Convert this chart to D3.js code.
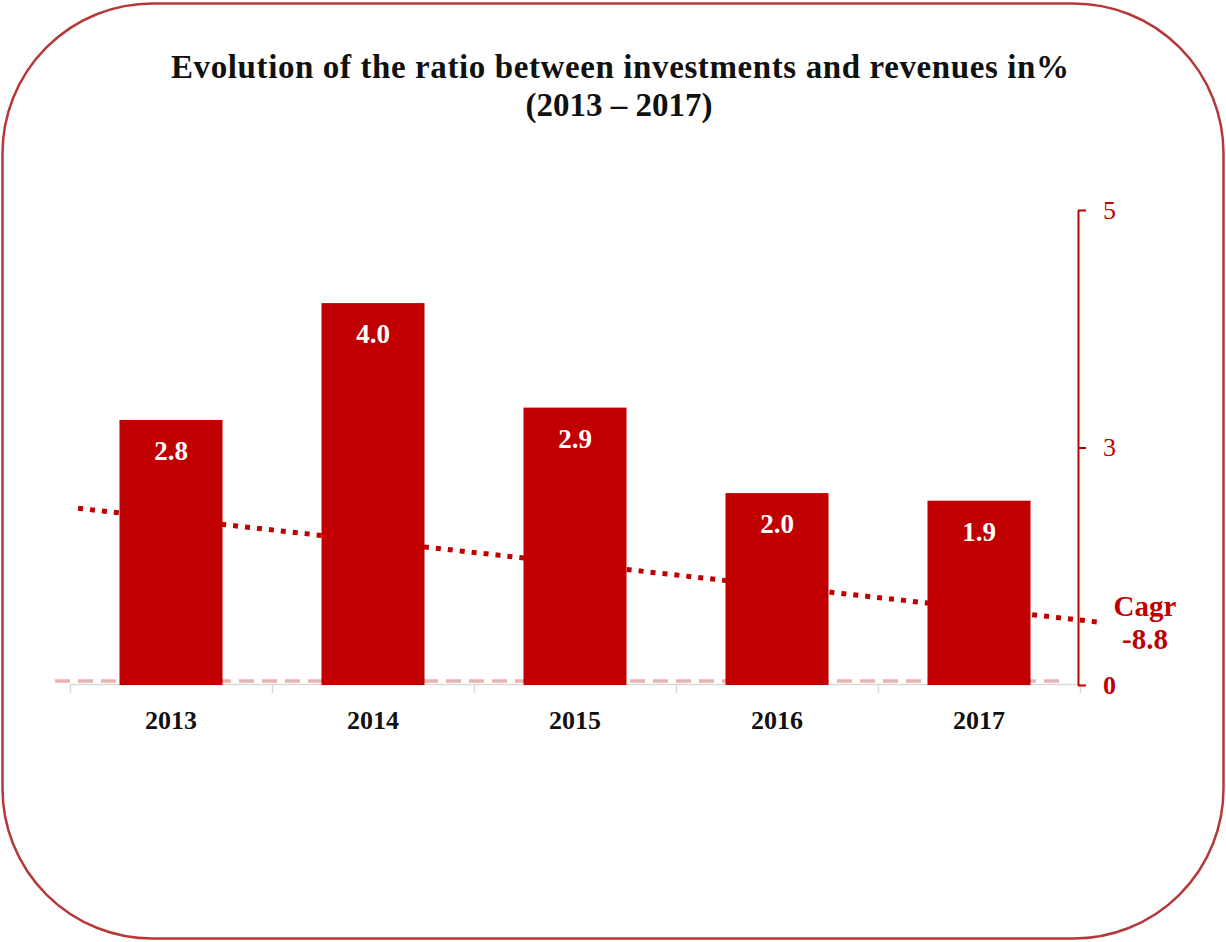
<!DOCTYPE html>
<html>
<head>
<meta charset="utf-8">
<script src="https://cdn.jsdelivr.net/npm/d3@7"></script>
<style>
  body { margin: 0; background: #fff; }
  text { font-family: "Liberation Serif", "DejaVu Serif", serif; }
</style>
</head>
<body>
<svg></svg>
<script>
let width = 1226;
let height = 942;

let years = ["2013", "2014", "2015", "2016", "2017"];
let ratios = [2.79, 4.02, 2.92, 2.02, 1.94];
let ratioLabels = ["2.8", "4.0", "2.9", "2.0", "1.9"];
let tickValues = [0, 2.5, 5];
let tickLabels = ["0", "3", "5"];
// trend line end values (data units), x-extent in category steps
let trendValues = [1.86, 0.66];
let trendSpan = [0.04, 5.1];
let cagrLabel = ["Cagr", "-8.8"];

let red = "#c00000";

let svg = d3.select("svg")
    .attr("width", width)
    .attr("height", height);

// rounded frame
svg.append("rect")
    .attr("x", 2.5)
    .attr("y", 3.5)
    .attr("width", width - 5)
    .attr("height", height - 7)
    .attr("rx", 150)
    .attr("ry", 150)
    .attr("fill", "#fff")
    .attr("stroke", "#b5383b")
    .attr("stroke-width", 2.5);

let xScale = d3.scaleBand()
    .domain(years)
    .range([70, 1080])
    .paddingInner(0.49)
    .paddingOuter(0.245);

let yScale = d3.scaleLinear()
    .domain([0, 5])
    .range([685, 210]);

let stepScale = d3.scaleLinear().domain([0, 5]).range([70, 1080]);

// x axis
let xAxis = d3.axisBottom(stepScale)
    .tickValues([0, 1, 2, 3, 4, 5])
    .tickSize(9)
    .tickSizeOuter(0)
    .tickFormat("");

let gx = svg.append("g")
    .attr("transform", "translate(0," + 684 + ")")
    .call(xAxis);
gx.selectAll("path, line").attr("stroke", "#d9d9d9").attr("stroke-width", 1.5);

svg.append("g")
    .selectAll("text")
    .data(years)
    .enter()
    .append("text")
    .attr("x", d => xScale(d) + xScale.bandwidth() / 2)
    .attr("y", 729)
    .attr("text-anchor", "middle")
    .style("font-size", "26px")
    .style("font-weight", "bold")
    .attr("fill", "#111")
    .text(d => d);

// dashed baseline
svg.append("line")
    .attr("x1", 55)
    .attr("x2", 1066)
    .attr("y1", yScale(0) - 4)
    .attr("y2", yScale(0) - 4)
    .attr("stroke", "#e6b3b3")
    .attr("stroke-width", 3.5)
    .attr("stroke-dasharray", "15 8");

// trend line
svg.append("line")
    .attr("x1", stepScale(trendSpan[0]))
    .attr("x2", stepScale(trendSpan[1]))
    .attr("y1", yScale(trendValues[0]))
    .attr("y2", yScale(trendValues[1]))
    .attr("stroke", red)
    .attr("stroke-width", 5)
    .attr("stroke-dasharray", "5 7");

// bars
svg.append("g")
    .selectAll("rect")
    .data(ratios)
    .enter()
    .append("rect")
    .attr("x", (d, i) => xScale(years[i]))
    .attr("y", d => yScale(d))
    .attr("width", xScale.bandwidth())
    .attr("height", d => yScale(0) - yScale(d))
    .attr("fill", red);

// bar value labels
svg.append("g")
    .selectAll("text")
    .data(ratios)
    .enter()
    .append("text")
    .attr("x", (d, i) => xScale(years[i]) + xScale.bandwidth() / 2)
    .attr("y", d => yScale(d) + 40)
    .attr("text-anchor", "middle")
    .style("font-size", "27px")
    .style("font-weight", "bold")
    .attr("fill", "#fff")
    .text((d, i) => ratioLabels[i]);

// right axis
let yAxis = d3.axisRight(yScale)
    .tickValues(tickValues)
    .tickSize(8)
    .tickSizeOuter(0)
    .tickFormat((d, i) => tickLabels[i]);

let gy = svg.append("g")
    .attr("transform", "translate(1078,0)")
    .call(yAxis);
gy.select(".domain").attr("stroke", red).attr("stroke-width", 2);
gy.selectAll(".tick line").attr("stroke", red).attr("stroke-width", 2);
gy.selectAll(".tick text")
    .attr("x", 25)
    .attr("fill", red)
    .style("font-family", "'Liberation Serif', serif")
    .style("font-size", "26px")
    .style("font-weight", d => d === 0 ? "bold" : "normal");

// CAGR note
svg.append("text")
    .attr("x", 1145)
    .attr("y", 616)
    .attr("text-anchor", "middle")
    .attr("fill", red)
    .style("font-size", "29px")
    .style("font-weight", "bold")
    .selectAll("tspan")
    .data(cagrLabel)
    .enter()
    .append("tspan")
    .attr("x", 1145)
    .attr("dy", (d, i) => i === 0 ? 0 : 33)
    .text(d => d);

// title
svg.append("text")
    .attr("x", 620)
    .attr("y", 78)
    .attr("text-anchor", "middle")
    .attr("textLength", 898)
    .attr("lengthAdjust", "spacing")
    .style("font-size", "33px")
    .style("font-weight", "bold")
    .attr("fill", "#111")
    .text("Evolution of the ratio between investments and revenues in%");

svg.append("text")
    .attr("x", 619)
    .attr("y", 116)
    .attr("text-anchor", "middle")
    .style("font-size", "33px")
    .style("font-weight", "bold")
    .attr("fill", "#111")
    .text("(2013 \u2013 2017)");
</script>
</body>
</html>
